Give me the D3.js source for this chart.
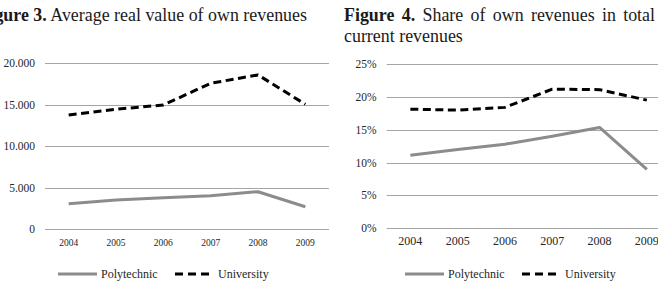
<!DOCTYPE html>
<html>
<head>
<meta charset="utf-8">
<script src="https://cdn.jsdelivr.net/npm/d3@7"></script>
<style>
  body { margin: 0; background: #fff; }
  .grid line { stroke: #a6a6a6; stroke-width: 1; }
</style>
</head>
<body>
<svg id="chart" width="658" height="306"></svg>
<script>
// years on x axis, same for both figures
const years = ["2004", "2005", "2006", "2007", "2008", "2009"];

// Figure 3: average real value of own revenues
const revPolytechnic = [3090, 3530, 3810, 4050, 4530, 2720];
const revUniversity = [13780, 14460, 14980, 17590, 18600, 15060];
const revTicks = [0, 5000, 10000, 15000, 20000];

// Figure 4: share of own revenues in total current revenues (%)
const sharePolytechnic = [11.1, 12.0, 12.8, 14.0, 15.35, 8.97];
const shareUniversity = [18.13, 17.98, 18.4, 21.17, 21.1, 19.5];
const shareTicks = [0, 5, 10, 15, 20, 25];

const serif = "'Liberation Serif', serif";

const svg = d3.select("#chart");

// measure first: title size picked so this phrase spans ~257px like the source
const probe = svg.append("text").attr("font-family", serif).attr("font-size", 16)
  .text("Average real value of own revenues");
const titleSize = 16 * 257 / probe.node().getComputedTextLength();
probe.remove();

const polyStyle = { stroke: "#8c8c8c", dash: null };
const uniStyle = { stroke: "#000", dash: "8,4.5" };

function drawPanel(opts) {
  const { x0, x1, yBottom, yTop, yMax, ticks, fmt, series, legendX, xFont } = opts;
  const g = svg.append("g").attr("font-family", serif);

  const x = d3.scaleBand().domain(years).range([x0, x1]);
  const y = d3.scaleLinear().domain([0, yMax]).range([yBottom, yTop]);

  // gridlines
  g.append("g").attr("class", "grid")
    .selectAll("line").data(ticks).join("line")
      .attr("x1", x0).attr("x2", x1)
      .attr("y1", d => Math.round(y(d)) + 0.5)
      .attr("y2", d => Math.round(y(d)) + 0.5);

  // y tick labels
  g.selectAll(".ylab").data(ticks).join("text")
    .attr("class", "ylab")
    .attr("font-family", serif).attr("font-size", 11.5).attr("fill", "#262626")
    .attr("x", x0 - 10)
    .attr("y", d => y(d) + 4)
    .attr("text-anchor", "end")
    .text(fmt);

  // x tick labels
  g.selectAll(".xlab").data(years).join("text")
    .attr("class", "xlab")
    .attr("font-family", serif).attr("font-size", xFont).attr("fill", "#262626")
    .attr("x", d => x(d) + x.bandwidth() / 2)
    .attr("y", yBottom + 17)
    .attr("text-anchor", "middle")
    .text(d => d);

  const line = d3.line()
    .x((d, i) => x(years[i]) + x.bandwidth() / 2)
    .y(d => y(d));

  series.forEach(s => {
    g.append("path")
      .datum(s.values)
      .attr("fill", "none")
      .attr("stroke", s.style.stroke)
      .attr("stroke-width", 3)
      .attr("stroke-linejoin", "round")
      .attr("stroke-dasharray", s.style.dash)
      .attr("d", line);
  });

  // legend
  const lg = g.append("g")
    .attr("transform", `translate(${legendX},274)`);
  lg.append("line").attr("x1", 0).attr("x2", 39).attr("y1", 0).attr("y2", 0)
    .attr("stroke", polyStyle.stroke).attr("stroke-width", 3);
  lg.append("text").attr("x", 43).attr("y", 4)
    .attr("font-family", serif).attr("font-size", 12).attr("fill", "#262626")
    .text("Polytechnic");
  lg.append("line").attr("x1", 117).attr("x2", 152).attr("y1", 0).attr("y2", 0)
    .attr("stroke", uniStyle.stroke).attr("stroke-width", 3)
    .attr("stroke-dasharray", "8,5");
  lg.append("text").attr("x", 160).attr("y", 4)
    .attr("font-family", serif).attr("font-size", 12).attr("fill", "#262626")
    .text("University");
}

drawPanel({
  x0: 45, x1: 329, yBottom: 229.3, yTop: 63.3, yMax: 20000,
  ticks: revTicks,
  fmt: d => d === 0 ? "0" : d3.format(",")(d).replace(",", "."),
  series: [
    { values: revPolytechnic, style: polyStyle },
    { values: revUniversity, style: uniStyle }
  ],
  legendX: 58,
  xFont: 9.5
});

drawPanel({
  x0: 386.7, x1: 670.5, yBottom: 228.3, yTop: 64, yMax: 25,
  ticks: shareTicks,
  fmt: d => d + "%",
  series: [
    { values: sharePolytechnic, style: polyStyle },
    { values: shareUniversity, style: uniStyle }
  ],
  legendX: 405,
  xFont: 12
});

// titles
const t3 = svg.append("text")
  .attr("x", 307).attr("y", 21)
  .attr("text-anchor", "end")
  .attr("font-family", serif).attr("font-size", titleSize).attr("fill", "#1a1a1a");
t3.append("tspan").attr("font-weight", "bold").text("Figure 3.");
t3.append("tspan").text(" Average real value of own revenues");

const t4 = svg.append("text")
  .attr("x", 344).attr("y", 21)
  .attr("font-family", serif).attr("font-size", titleSize).attr("fill", "#1a1a1a");
t4.append("tspan").attr("font-weight", "bold").text("Figure 4.");
t4.append("tspan").text(" Share of own revenues in total");
// justify the first line, like the source document
const want = 655 - 344;
const have = t4.node().getComputedTextLength();
t4.attr("word-spacing", Math.max(0, (want - have) / 7));

svg.append("text")
  .attr("x", 344).attr("y", 42)
  .attr("font-family", serif).attr("font-size", titleSize).attr("fill", "#1a1a1a")
  .text("current revenues");
</script>
</body>
</html>
